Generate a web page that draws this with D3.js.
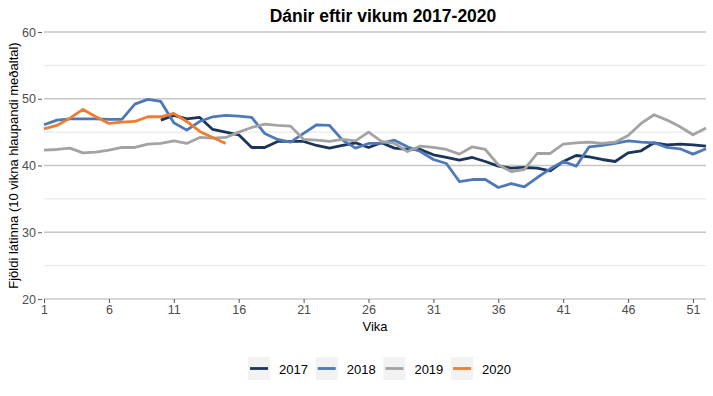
<!DOCTYPE html>
<html><head><meta charset="utf-8">
<script src="https://cdn.jsdelivr.net/npm/d3@7"></script>
<style>
body{margin:0;background:#fff;}
text{font-family:"Liberation Sans",Arial,sans-serif;}
</style></head>
<body><svg id="c" width="713" height="396"></svg>
<script>
const weeks = d3.range(1, 53);
const years = ["2017","2018","2019","2020"];
const colors = ["#1b355a","#4e79b8","#a3a3a3","#ed7d31"];
const xTicks = [1,6,11,16,21,26,31,36,41,46,51];
const yTicks = [20,30,40,50,60];
const yMinor = [25,35,45,55];

// 2017 starts at week 10
const s2017 = [null,null,null,null,null,null,null,null,null,46.8,47.5,47.0,47.2,45.4,45.0,44.6,42.7,42.7,43.6,43.6,
  43.6,43.0,42.6,43.0,43.4,42.7,43.4,42.6,42.4,42.4,41.6,41.2,40.8,41.2,40.6,39.9,39.6,39.7,39.6,39.2,
  40.6,41.5,41.3,40.9,40.6,41.9,42.2,43.4,43.1,43.2,43.1,42.9];
const s2018 = [46.1,46.8,47.0,47.0,47.0,46.9,46.9,49.2,49.9,49.6,46.4,45.3,46.6,47.3,47.5,47.4,47.2,44.8,43.9,43.5,
  44.8,46.1,46.0,43.8,42.6,43.3,43.3,43.8,42.8,42.1,40.9,40.3,37.6,37.9,37.9,36.7,37.3,36.8,38.2,39.5,
  40.6,39.9,42.8,43.0,43.3,43.7,43.5,43.4,42.7,42.5,41.7,42.5];
const s2019 = [42.3,42.4,42.6,41.9,42.0,42.3,42.7,42.7,43.2,43.3,43.7,43.3,44.2,44.1,44.2,45.0,45.7,46.2,46.0,45.9,
  43.9,43.8,43.6,43.9,43.7,45.0,43.6,43.3,42.1,42.9,42.7,42.4,41.7,42.8,42.4,40.1,39.1,39.4,41.8,41.8,
  43.2,43.4,43.5,43.3,43.5,44.5,46.3,47.6,46.8,45.8,44.6,45.6];
const s2020 = [45.5,46.0,47.1,48.4,47.3,46.3,46.5,46.6,47.3,47.3,47.8,46.6,45.1,44.2,43.3];
const series = [s2017, s2018, s2019, s2020];

const svg = d3.select("#c");
const m = {l:44, r:7, t:32, b:97};
const W = 713, H = 396;
const x = d3.scaleLinear().domain([1,52]).range([m.l, W - m.r]);
const y = d3.scaleLinear().domain([20,60]).range([H - m.b, m.t]);

// minor grid
svg.append("g").selectAll("line").data(yMinor).join("line")
  .attr("x1", x(1)).attr("x2", x(52)).attr("y1", d=>y(d)).attr("y2", d=>y(d))
  .attr("stroke","#e4e4e4").attr("stroke-width",1);
// major grid
svg.append("g").selectAll("line").data(yTicks.slice(1)).join("line")
  .attr("x1", x(1)).attr("x2", x(52)).attr("y1", d=>y(d)).attr("y2", d=>y(d))
  .attr("stroke","#c6c6c6").attr("stroke-width",1.3);

// x axis
const xa = svg.append("g").attr("transform",`translate(0,${y(20)})`)
  .call(d3.axisBottom(x).tickValues(xTicks).tickSize(4).tickPadding(2).tickFormat(d3.format("d")));
xa.select(".domain").attr("stroke","#b0b0b0").attr("stroke-width",1.2).attr("d",`M${x(1)},0H${x(52)}`);
xa.selectAll(".tick line").attr("stroke","#555");
xa.selectAll("text").attr("fill","#4d4d4d").attr("font-size",12.5).attr("font-family","Liberation Sans, Arial, sans-serif");

// y axis
const ya = svg.append("g").attr("transform",`translate(${m.l-2},0)`)
  .call(d3.axisLeft(y).tickValues(yTicks).tickSize(4).tickPadding(2).tickFormat(d3.format("d")));
ya.select(".domain").remove();
ya.selectAll(".tick line").attr("stroke","#555");
ya.selectAll("text").attr("fill","#4d4d4d").attr("font-size",12.5).attr("font-family","Liberation Sans, Arial, sans-serif");

// lines
const line = d3.line().defined(d=>d[1]!=null).x(d=>x(d[0])).y(d=>y(d[1]));
series.forEach((s,i)=>{
  svg.append("path")
    .datum(s.map((v,j)=>[weeks[j], v]))
    .attr("fill","none").attr("stroke",colors[i]).attr("stroke-width",2.8)
    .attr("stroke-linejoin","round").attr("d", line);
});

// title
svg.append("text").attr("x",383).attr("y",22).attr("text-anchor","middle")
  .attr("font-size",17.5).attr("font-weight","bold").attr("fill","#000").text("Dánir eftir vikum 2017-2020");
// axis titles
svg.append("text").attr("x",(x(1)+x(52))/2).attr("y",331).attr("text-anchor","middle")
  .attr("font-size",13).attr("fill","#000").text("Vika");
svg.append("text").attr("transform",`translate(18,${(y(20)+y(60))/2}) rotate(-90)`)
  .attr("text-anchor","middle").attr("font-size",13).attr("fill","#000")
  .text("Fjöldi látinna (10 vikna hlaupandi meðaltal)");

// legend
const lg = svg.append("g").attr("transform","translate(248,357)");
years.forEach((yr,i)=>{
  const g = lg.append("g").attr("transform",`translate(${i*67.7},0)`);
  g.append("rect").attr("width",22).attr("height",23).attr("fill","#f2f2f2");
  g.append("line").attr("x1",2).attr("x2",20).attr("y1",11.5).attr("y2",11.5)
    .attr("stroke",colors[i]).attr("stroke-width",2.8);
  g.append("text").attr("x",31).attr("y",16.5).attr("font-size",13).attr("fill","#000").text(yr);
});
</script></body></html>
